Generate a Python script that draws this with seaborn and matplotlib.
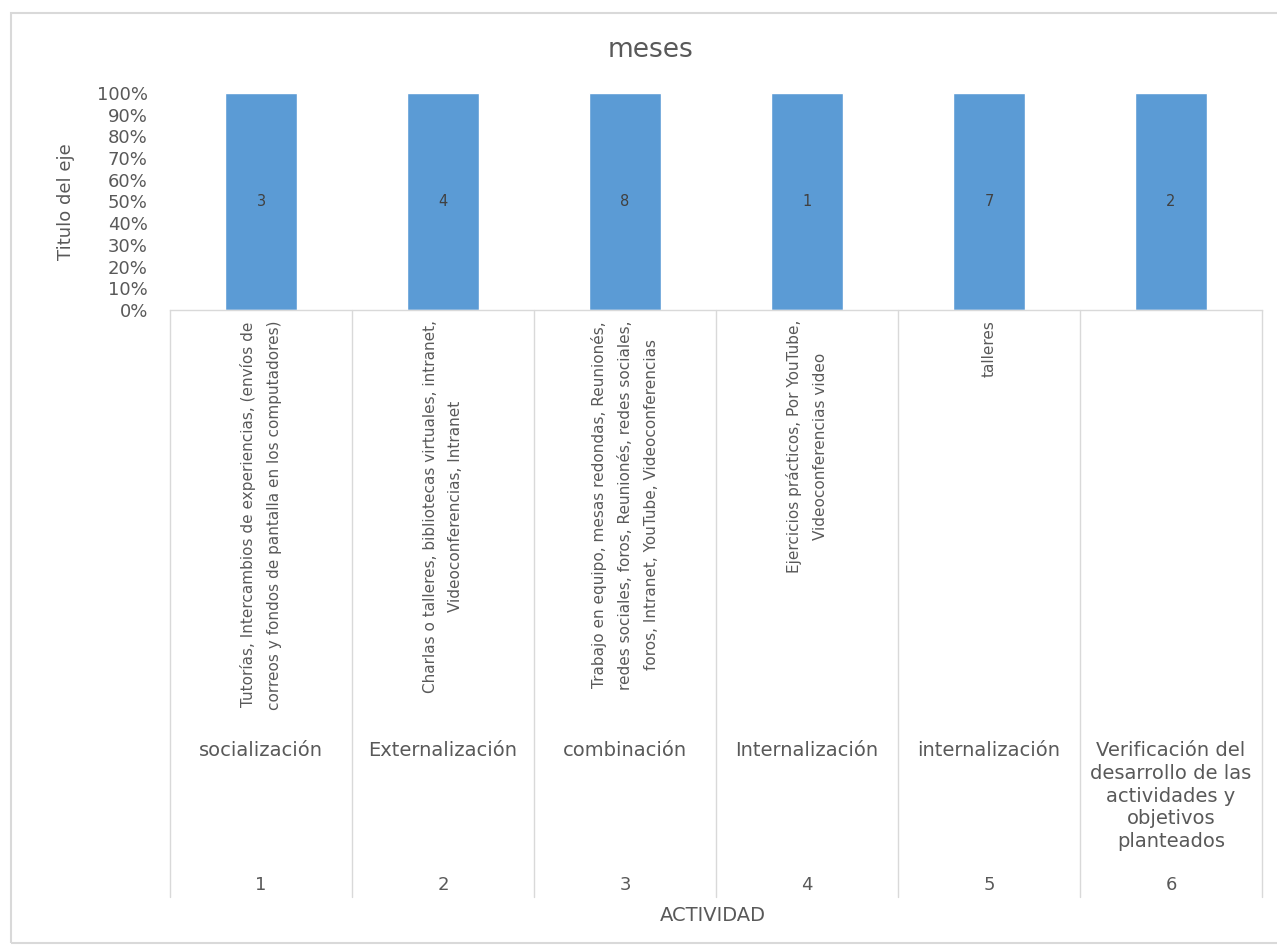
import numpy as np
import pandas as pd
import matplotlib
matplotlib.use("Agg")
import matplotlib.pyplot as plt
from matplotlib import font_manager
from matplotlib.transforms import blended_transform_factory
from matplotlib.patches import Rectangle
from matplotlib.lines import Line2D
import seaborn as sns

# ---------------- data ----------------
activity_numbers = ["1", "2", "3", "4", "5", "6"]
phases = [
    "socialización",
    "Externalización",
    "combinación",
    "Internalización",
    "internalización",
    "Verificación del\ndesarrollo de las\nactividades y\nobjetivos\nplanteados",
]
tools = [
    "Tutorías, Intercambios de experiencias, (envíos de\ncorreos y fondos de pantalla en los computadores)",
    "Charlas o talleres, bibliotecas virtuales, intranet,\nVideoconferencias, Intranet",
    "Trabajo en equipo, mesas redondas, Reunionés,\nredes sociales, foros, Reunionés, redes sociales,\nforos, Intranet, YouTube, Videoconferencias",
    "Ejercicios prácticos, Por YouTube,\nVideoconferencias video",
    "talleres",
    "",
]
counts = [3, 4, 8, 1, 7, 2]
y_ticks = [0, 10, 20, 30, 40, 50, 60, 70, 80, 90, 100]

title = "meses"
y_title = "Titulo del eje"
x_title = "ACTIVIDAD"

# 100% stacked with one series: each column is its own total
df = pd.DataFrame({"actividad": activity_numbers, "count": counts})
df["share"] = df["count"] / df.groupby("actividad")["count"].transform("sum") * 100

# ---------------- style ----------------
sns.set_theme(style="white")
plt.rcParams["font.family"] = ["DejaVu Sans"]
TXT = "#595959"
BLUE = "#5B9BD5"
GRID = "#D9D9D9"

names = {f.name for f in font_manager.fontManager.ttflist}
if "Liberation Sans Narrow" in names:
    rot_font, rot_size, rot_ls = "Liberation Sans Narrow", 14.5, 1.65
else:
    rot_font, rot_size, rot_ls = "DejaVu Sans", 11, 1.9

W, H = 1277, 947
fig = plt.figure(figsize=(W / 100, H / 100), dpi=100)
fig.patch.set_facecolor("white")

def fx(px):
    return px / W

def fy(py):
    return 1 - py / H

ax = fig.add_axes([fx(170), fy(310), fx(1262) - fx(170), fy(93) - fy(310)])

sns.barplot(data=df, x="actividad", y="share", color=BLUE, width=0.4,
            saturation=1, ax=ax, order=activity_numbers)
ax.set_xlim(-0.5, len(activity_numbers) - 0.5)
ax.set_ylim(0, 100)
ax.set_yticks(y_ticks)
ax.set_yticklabels([f"{t}%" for t in y_ticks], color=TXT, fontsize=13)
ax.tick_params(axis="y", length=0, pad=16)
ax.set_xticks([])
ax.set_xlabel("")
ax.set_ylabel("")
for s in ["left", "right", "top"]:
    ax.spines[s].set_visible(False)
ax.spines["bottom"].set_color(GRID)
ax.spines["bottom"].set_linewidth(1)

ax.bar_label(ax.containers[0], labels=[str(c) for c in counts],
             label_type="center", color="#404040", fontsize=10.5)

# ---------------- multi-level category axis ----------------
tr = blended_transform_factory(ax.transData, fig.transFigure)
n = len(activity_numbers)
for k in range(n + 1):
    ax.add_line(Line2D([k - 0.5, k - 0.5], [fy(310), fy(897)], transform=tr,
                       color=GRID, lw=1, clip_on=False))

for i in range(n):
    if tools[i]:
        ax.text(i, fy(320), tools[i], transform=tr, rotation=90,
                ha="center", va="top", multialignment="center",
                family=rot_font, fontsize=rot_size, linespacing=rot_ls,
                color=TXT, clip_on=False)
    ax.text(i, fy(741), phases[i], transform=tr, ha="center", va="top",
            multialignment="center", fontsize=14, linespacing=1.25,
            color=TXT, clip_on=False)
    ax.text(i, fy(885), activity_numbers[i], transform=tr, ha="center",
            va="center", fontsize=13, color=TXT, clip_on=False)

# titles
fig.text(fx(713), fy(915), x_title, ha="center", va="center",
         fontsize=14, color=TXT)
fig.text(fx(66), fy(202), y_title, ha="center", va="center", rotation=90,
         fontsize=13, color=TXT)
fig.text(fx(650), fy(50), title, ha="center", va="center",
         fontsize=19, color=TXT)

# chart-area frame
fig.add_artist(Rectangle((fx(11), fy(943)), fx(1300) - fx(11), fy(13) - fy(943),
                         transform=fig.transFigure, fill=False,
                         edgecolor=GRID, lw=1.5))

fig.savefig("out.png", dpi=100, facecolor="white")
